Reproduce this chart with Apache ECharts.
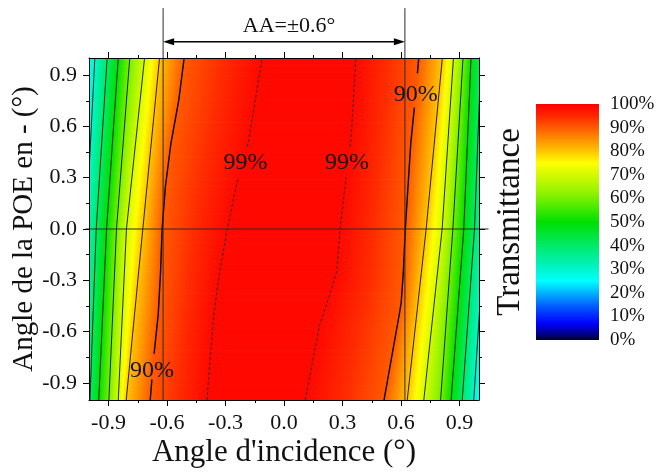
<!DOCTYPE html>
<html>
<head>
<meta charset="utf-8">
<script src="https://cdn.jsdelivr.net/npm/echarts@6/dist/echarts.min.js"></script>
<style>html,body{margin:0;padding:0;background:#fff}#c{width:661px;height:472px}</style>
</head>
<body>
<div id="c"></div>
<script>
// ---------- data ----------
const xMajor = [-0.9, -0.6, -0.3, 0, 0.3, 0.6, 0.9];
const xMinor = [-0.75, -0.45, -0.15, 0.15, 0.45, 0.75];
const yMajor = [-0.9, -0.6, -0.3, 0, 0.3, 0.6, 0.9];
const yMinor = [-0.75, -0.45, -0.15, 0.15, 0.45, 0.75];
const cbRange = [0, 100];

// colour map of the colour bar (value %, colour)
const cmapValues = [0, 2, 7, 14, 20, 25, 32, 40, 50, 56, 63, 70, 75, 80, 85, 90, 95, 100];
const cmapColors = ['#000020', '#00007a', '#0000ff', '#0058ff', '#00b4ff', '#00ffff', '#00f2b8', '#00ea68',
  '#00e000', '#48ea00', '#98f400', '#d4fa00', '#ffff00', '#ffc400', '#ff9000', '#ff5a00', '#ff2600', '#ff0000'];

// contour lines: [angle d'incidence, angle POE], ordered by POE angle
const L20 = [[-1.09, -1], [-1.07, 0], [-1.03, 1]];
const L30 = [[-1.04, -1], [-1.015, 0], [-0.970, 1]];
const L40 = [[-0.995, -1], [-0.963, 0], [-0.907, 1]];
const L50 = [[-0.950, -1], [-0.910, 0], [-0.850, 1]];
const L60 = [[-0.898, -1], [-0.859, 0], [-0.791, 1]];
const L70 = [[-0.850, -1], [-0.808, 0], [-0.715, 1]];
const L80 = [[-0.809, -1], [-0.724, 0], [-0.638, 1]];
const L90 = [[-0.686, -1], [-0.668, -0.75], [-0.645, -0.5], [-0.633, -0.25], [-0.625, 0], [-0.608, 0.25], [-0.58, 0.5], [-0.54, 0.75], [-0.512, 1]];
const L99 = [[-0.395, -1], [-0.378, -0.75], [-0.36, -0.5], [-0.33, -0.25], [-0.291, 0], [-0.245, 0.25], [-0.184, 0.5], [-0.148, 0.75], [-0.112, 1]];
const R99 = [[0.109, -1], [0.151, -0.75], [0.182, -0.565], [0.23, -0.4], [0.27, -0.25], [0.288, 0], [0.318, 0.3], [0.346, 0.56], [0.368, 1]];
const R90 = [[0.513, -1], [0.552, -0.75], [0.591, -0.5], [0.601, -0.43], [0.612, -0.25], [0.622, 0], [0.636, 0.25], [0.65, 0.5], [0.672, 0.75], [0.691, 1]];
const R80 = [[0.632, -1], [0.729, 0], [0.812, 1]];
const R70 = [[0.717, -1], [0.811, 0], [0.869, 1]];
const R60 = [[0.803, -1], [0.866, 0], [0.918, 1]];
const R50 = [[0.857, -1], [0.922, 0], [0.959, 1]];
const R40 = [[0.914, -1], [0.977, 0], [1.01, 1]];
const R30 = [[0.973, -1], [1.03, 0], [1.06, 1]];
const R20 = [[1.03, -1], [1.08, 0], [1.11, 1]];

const contours = [L20, L30, L40, L50, L60, L70, L80, L90, L99, R99, R90, R80, R70, R60, R50, R40, R30, R20];
const levels   = [20, 30, 40, 50, 60, 70, 80, 90, 99, 99, 90, 80, 70, 60, 50, 40, 30, 20];

// contour labels
const labelTexts = ['99%', '99%', '90%', '90%'];
const labelX = [-0.197, 0.323, 0.676, -0.677];
const labelY = [0.386, 0.386, 0.787, -0.83];

// acceptance angle
const aaBounds = [-0.62, 0.62];
const aaText = 'AA=\u00b10.6\u00b0';

// ---------- layout constants ----------
const FONT = 'Liberation Serif';
const lineGaps = new Map([[L90, [-0.88, -0.73]], [L99, [0.30, 0.48]], [R99, [0.30, 0.48]], [R90, [0.71, 0.91]]]);
const aaLineTop = 1.292, arrowY = 1.095, aaLabelAt = [0.026, 1.183];
const zeroLineExtent = [-1.018, 1.049];

// ---------- helpers ----------
function hexRgb(h) { return [parseInt(h.substr(1, 2), 16), parseInt(h.substr(3, 2), 16), parseInt(h.substr(5, 2), 16)]; }
function cmap(v) {
  if (v <= cmapValues[0]) return cmapColors[0];
  for (let i = 0; i < cmapValues.length - 1; i++) {
    if (v <= cmapValues[i + 1]) {
      const t = (v - cmapValues[i]) / (cmapValues[i + 1] - cmapValues[i]);
      const a = hexRgb(cmapColors[i]), b = hexRgb(cmapColors[i + 1]);
      return 'rgb(' + a.map((c, k) => Math.round(c + (b[k] - c) * t)).join(',') + ')';
    }
  }
  return cmapColors[cmapColors.length - 1];
}
function xAt(line, y) {
  if (y <= line[0][1]) return line[0][0];
  for (let i = 0; i < line.length - 1; i++) {
    const a = line[i], b = line[i + 1];
    if (y <= b[1]) return a[0] + (y - a[1]) / (b[1] - a[1]) * (b[0] - a[0]);
  }
  return line[line.length - 1][0];
}
function clipOf(params) {
  const cs = params.coordSys;
  return { type: 'rect', shape: { x: cs.x, y: cs.y, width: cs.width, height: cs.height } };
}
const fmt = v => (Math.abs(v) < 1e-9 ? 0 : v).toFixed(1);

// ---------- render functions ----------
function bandItem(params, api) {
  const i = api.value(0);
  const A = contours[i], B = contours[i + 1];
  const la = levels[i], lb = levels[i + 1];
  const N = 48, children = [];
  const stops = [];
  for (let s = 0; s <= 4; s++) stops.push({ offset: s / 4, color: cmap(la + (lb - la) * s / 4) });
  for (let k = 0; k < N; k++) {
    const y0 = -1 + 2 * k / N, y1 = -1 + 2 * (k + 1) / N;
    const a0 = api.coord([xAt(A, y0), y0]), b0 = api.coord([xAt(B, y0), y0]);
    const b1 = api.coord([xAt(B, y1), y1]), a1 = api.coord([xAt(A, y1), y1]);
    const gy = (a0[1] + a1[1]) / 2, ax = (a0[0] + a1[0]) / 2;
    let bx = (b0[0] + b1[0]) / 2; if (Math.abs(bx - ax) < 0.5) bx = ax + 0.5;
    const grad = { type: 'linear', x: ax, y: gy, x2: bx, y2: gy, colorStops: stops, global: true };
    children.push({ type: 'polygon', shape: { points: [a0, b0, b1, a1] }, style: { fill: grad, stroke: grad, lineWidth: 1 } });
  }
  return { type: 'group', children, clipPath: clipOf(params) };
}

function lineItem(params, api) {
  const i = api.value(0);
  const line = contours[i], lev = levels[i];
  const gap = lineGaps.get(line);
  let all = line.slice();
  let segs = [all];
  if (gap) {
    all = all.concat([[xAt(line, gap[0]), gap[0]], [xAt(line, gap[1]), gap[1]]]).sort((a, b) => a[1] - b[1]);
    segs = [all.filter(p => p[1] <= gap[0]), all.filter(p => p[1] >= gap[1])];
  }
  let style;
  if (lev === 99) style = { stroke: '#2a2a2a', lineWidth: 0.9, lineDash: [3, 2], fill: null };
  else if (lev === 90) style = { stroke: '#000', lineWidth: 1.4, fill: null };
  else style = { stroke: '#111', lineWidth: 0.9, fill: null };
  const children = segs.filter(s => s.length > 1).map(s => ({
    type: 'polyline', shape: { points: s.map(p => api.coord(p)) }, style: style
  }));
  return { type: 'group', children, clipPath: clipOf(params) };
}

function labelItem(params, api) {
  const i = api.value(0);
  const p = api.coord([labelX[i], labelY[i]]);
  return { type: 'text', x: p[0], y: p[1],
    style: { text: labelTexts[i], fontSize: 24, fontFamily: FONT, fill: '#111', align: 'center', verticalAlign: 'middle' } };
}

function annotItem(params, api) {
  const xl = api.value(0), xr = api.value(1);
  const lb = api.coord([xl, -1]), lt = api.coord([xl, aaLineTop]);
  const rb = api.coord([xr, -1]), rt = api.coord([xr, aaLineTop]);
  const al = api.coord([xl, arrowY]), ar = api.coord([xr, arrowY]);
  const z0 = api.coord([zeroLineExtent[0], 0]), z1 = api.coord([zeroLineExtent[1], 0]);
  const tp = api.coord(aaLabelAt);
  const ah = 11, aw = 3.5;
  const thin = { stroke: '#2b2b2b', lineWidth: 1 };
  return { type: 'group', children: [
    { type: 'line', shape: { x1: lb[0], y1: lb[1], x2: lt[0], y2: lt[1] }, style: thin },
    { type: 'line', shape: { x1: rb[0], y1: rb[1], x2: rt[0], y2: rt[1] }, style: thin },
    { type: 'line', shape: { x1: z0[0], y1: z0[1], x2: z1[0], y2: z1[1] }, style: { stroke: '#2b2b2b', lineWidth: 1.2 } },
    { type: 'line', shape: { x1: al[0] + ah - 1, y1: al[1], x2: ar[0] - ah + 1, y2: ar[1] }, style: { stroke: '#000', lineWidth: 1.3 } },
    { type: 'polygon', shape: { points: [[al[0], al[1]], [al[0] + ah, al[1] - aw], [al[0] + ah, al[1] + aw]] }, style: { fill: '#000' } },
    { type: 'polygon', shape: { points: [[ar[0], ar[1]], [ar[0] - ah, ar[1] - aw], [ar[0] - ah, ar[1] + aw]] }, style: { fill: '#000' } },
    { type: 'text', x: tp[0], y: tp[1], style: { text: aaText, fontSize: 22, fontFamily: FONT, fill: '#111', align: 'center', verticalAlign: 'middle' } }
  ] };
}

function colorbarItem(params, api) {
  const p0 = api.coord([0, cbRange[1]]), p1 = api.coord([1, cbRange[0]]);
  const stops = cmapValues.map((v, k) => ({ offset: 1 - (v - cbRange[0]) / (cbRange[1] - cbRange[0]), color: cmapColors[k] })).reverse();
  return { type: 'rect', shape: { x: p0[0], y: p0[1], width: p1[0] - p0[0], height: p1[1] - p0[1] },
    style: { fill: { type: 'linear', x: 0, y: 0, x2: 0, y2: 1, colorStops: stops } } };
}

// ---------- axes ----------
const txt = { fontFamily: FONT, color: '#111' };
function frameX(pos, ticks, len, labels, extra) {
  return Object.assign({
    gridIndex: 0, type: 'value', min: -1, max: 1, position: pos, z: 10,
    axisLine: { show: !!labels || len === 6, onZero: false, lineStyle: { color: '#000', width: 1 } },
    axisTick: { show: true, inside: false, length: len, customValues: ticks, lineStyle: { color: '#000', width: 1 } },
    axisLabel: labels ? Object.assign({ show: true, customValues: ticks, formatter: fmt, fontSize: 22, margin: 12 }, txt) : { show: false },
    splitLine: { show: false }
  }, extra || {});
}

const option = {
  animation: false,
  backgroundColor: '#fff',
  grid: [
    { left: 89, top: 58, width: 390, height: 342, containLabel: false, outerBoundsMode: 'none' },
    { left: 536, top: 104, width: 63, height: 236, containLabel: false, outerBoundsMode: 'none' }
  ],
  xAxis: [
    frameX('bottom', xMajor, 6, true, { name: "Angle d'incidence (\u00b0)", nameLocation: 'middle', nameGap: 37,
      nameMoveOverlap: false, nameTextStyle: Object.assign({ fontSize: 31 }, txt) }),
    frameX('top', xMajor, 6, false),
    frameX('bottom', xMinor, 3, false),
    frameX('top', xMinor, 3, false),
    { gridIndex: 1, type: 'value', min: 0, max: 1, show: false }
  ],
  yAxis: [
    frameX('left', yMajor, 6, true, { name: 'Angle de la POE en - (\u00b0)', nameLocation: 'middle', nameGap: 50,
      nameMoveOverlap: false, nameTextStyle: Object.assign({ fontSize: 29 }, txt) }),
    frameX('right', yMajor, 6, false),
    frameX('left', yMinor, 3, false),
    frameX('right', yMinor, 3, false),
    { gridIndex: 1, type: 'value', min: cbRange[0], max: cbRange[1], interval: 10, position: 'right',
      axisLine: { show: false }, axisTick: { show: false }, splitLine: { show: false },
      axisLabel: Object.assign({ formatter: '{value}%', fontSize: 19, margin: 11 }, txt) },
    { gridIndex: 1, type: 'value', min: cbRange[0], max: cbRange[1], position: 'left',
      axisLine: { show: false }, axisTick: { show: false }, splitLine: { show: false }, axisLabel: { show: false },
      name: 'Transmittance', nameLocation: 'middle', nameGap: 9, nameMoveOverlap: false,
      nameTextStyle: Object.assign({ fontSize: 33 }, txt) }
  ],
  series: [
    { type: 'custom', xAxisIndex: 0, yAxisIndex: 0, z: 1, renderItem: bandItem,
      data: contours.slice(0, -1).map((c, i) => [i]) },
    { type: 'custom', xAxisIndex: 0, yAxisIndex: 0, z: 2, renderItem: lineItem,
      data: contours.map((c, i) => [i]).filter(d => levels[d[0]] > 20) },
    { type: 'custom', xAxisIndex: 0, yAxisIndex: 0, z: 3, renderItem: annotItem, clip: false,
      data: [[aaBounds[0], aaBounds[1]]] },
    { type: 'custom', xAxisIndex: 0, yAxisIndex: 0, z: 4, renderItem: labelItem,
      data: labelTexts.map((t, i) => [i]) },
    { type: 'custom', xAxisIndex: 4, yAxisIndex: 4, z: 1, renderItem: colorbarItem,
      data: [[0]] }
  ]
};

const chart = echarts.init(document.getElementById('c'));
chart.setOption(option);
</script>
</body>
</html>
